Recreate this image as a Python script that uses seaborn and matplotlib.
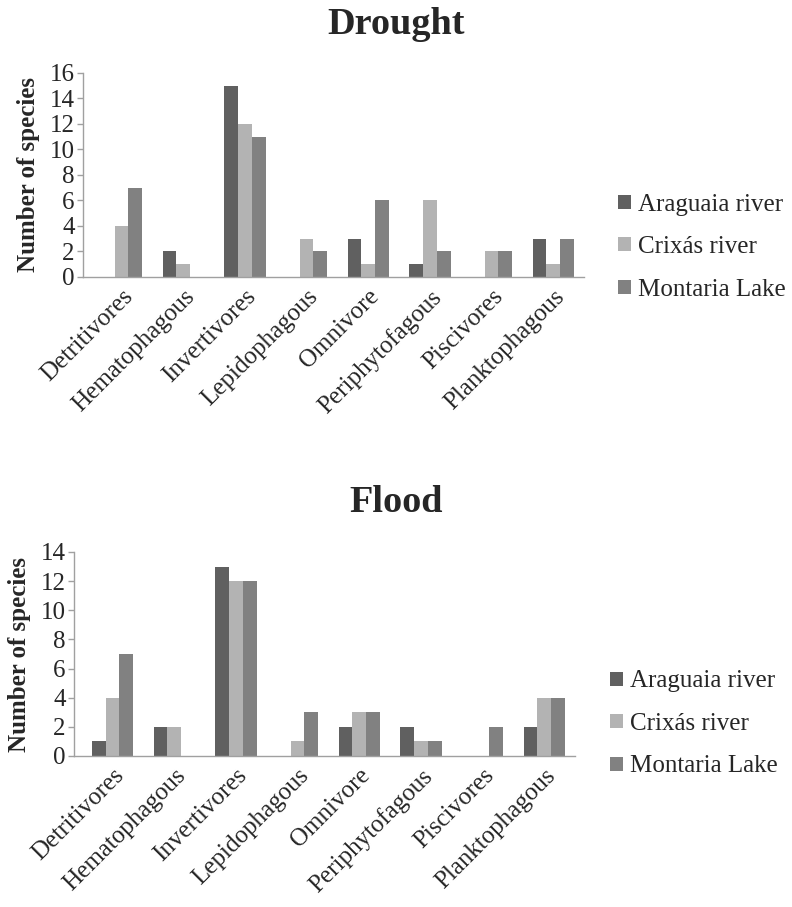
import matplotlib
matplotlib.use("Agg")
import matplotlib.pyplot as plt
import seaborn as sns
import pandas as pd

categories = ["Detritivores", "Hematophagous", "Invertivores", "Lepidophagous",
              "Omnivore", "Periphytofagous", "Piscivores", "Planktophagous"]
sites = ["Araguaia river", "Crixás river", "Montaria Lake"]

drought_araguaia = [0, 2, 15, 0, 3, 1, 0, 3]
drought_crixas = [4, 1, 12, 3, 1, 6, 2, 1]
drought_montaria = [7, 0, 11, 2, 6, 2, 2, 3]

flood_araguaia = [1, 2, 13, 0, 2, 2, 0, 2]
flood_crixas = [4, 2, 12, 1, 3, 1, 0, 4]
flood_montaria = [7, 0, 12, 3, 3, 1, 2, 4]

palette = ["#606060", "#b3b3b3", "#818181"]

sns.set_theme(style="white")
plt.rcParams["font.family"] = ["Liberation Serif", "DejaVu Serif"]


def long_df(a, c, m):
    rows = []
    for vals, s in zip([a, c, m], sites):
        for cat, v in zip(categories, vals):
            rows.append({"cat": cat, "site": s, "value": v})
    return pd.DataFrame(rows)


fig = plt.figure(figsize=(7.92, 9.07), dpi=100)

FS = 18

panels = [
    ("Drought", long_df(drought_araguaia, drought_crixas, drought_montaria),
     [83/792, 1-277/907, (584-83)/792, (277-73)/907], 16, 1-25/907, (0.768, 1-247/907)),
    ("Flood", long_df(flood_araguaia, flood_crixas, flood_montaria),
     [74/792, 1-756/907, (575-74)/792, (756-552)/907], 14, 1-503/907, (0.758, 1-724/907)),
]

for title, df, rect, ymax, ty, legpos in panels:
    ax = fig.add_axes(rect)
    sns.barplot(data=df, x="cat", y="value", hue="site", palette=palette,
                width=0.67, linewidth=0, ax=ax, legend=True)
    ax.set_xlim(-0.625, 7.5)
    ax.set_ylim(0, ymax)
    ax.set_yticks(range(0, ymax + 1, 2))
    ax.set_yticklabels([str(v) for v in range(0, ymax + 1, 2)], fontsize=FS)
    ax.set_xticks(range(len(categories)))
    ax.set_xticklabels(categories, rotation=45, ha="right", rotation_mode="anchor",
                       fontsize=FS)
    ax.tick_params(axis="x", length=0, pad=6)
    ax.tick_params(axis="y", length=4, width=1, color="#a0a0a0", pad=2, direction="out", left=True)
    for s in ["top", "right"]:
        ax.spines[s].set_visible(False)
    for s in ["left", "bottom"]:
        ax.spines[s].set_color("#a0a0a0")
        ax.spines[s].set_linewidth(1)
    ax.set_xlabel("")
    ax.set_ylabel("Number of species", fontsize=FS, fontweight="bold", labelpad=7)
    fig.text(0.5, ty, title, fontsize=27.5, fontweight="bold", ha="center", va="center")
    handles, labels = ax.get_legend_handles_labels()
    ax.get_legend().remove()
    fig.legend(handles, labels, loc="center left", bbox_to_anchor=legpos,
               frameon=False, fontsize=FS, handlelength=0.5, handleheight=0.5,
               handletextpad=0.3, labelspacing=0.82, borderaxespad=0)

fig.savefig("out.png", dpi=100)
